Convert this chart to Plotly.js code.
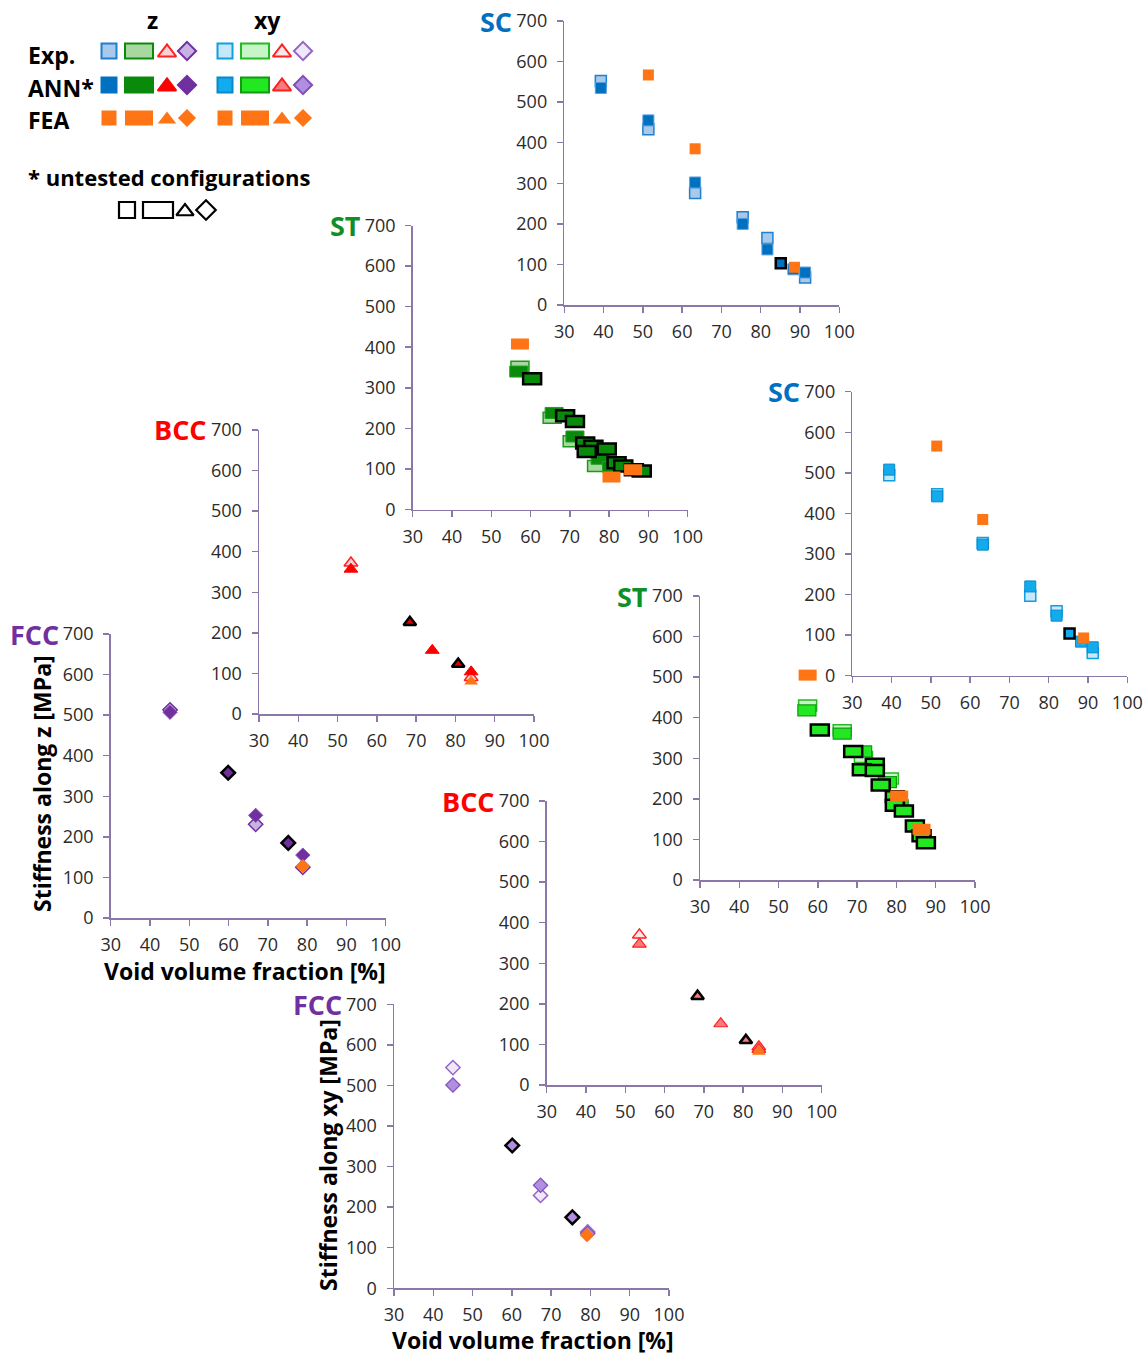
<!DOCTYPE html>
<html><head><meta charset="utf-8">
<script src="https://cdn.plot.ly/plotly-3.0.1.min.js"></script>
<style>html,body{margin:0;padding:0;background:#fff}#chart{width:1146px;height:1355px}</style>
</head><body><div id="chart"></div>
<script>
// ---------------- DATA ----------------
const xTicks = [30, 40, 50, 60, 70, 80, 90, 100];
const yTicks = [0, 100, 200, 300, 400, 500, 600, 700];

// SC – stiffness along z
const scZ_exp_x = [39.3, 51.4, 63.3, 75.4, 81.7, 91.3];
const scZ_exp_y = [552, 433, 276, 216, 165, 68];
const scZ_ann_x = [39.3, 51.4, 63.3, 75.4, 81.7, 88.3, 91.3];
const scZ_ann_y = [535, 455, 302, 200, 137, 88, 80];
const scZ_unt_x = [85.1];
const scZ_unt_y = [103];
const scZ_fea_x = [51.4, 63.3, 88.6];
const scZ_fea_y = [567, 385, 93];

// SC – stiffness along xy
const scXY_exp_x = [39.4, 51.6, 63.2, 75.3, 82.0, 91.2];
const scXY_exp_y = [494, 447, 327, 197, 159, 56];
const scXY_ann_x = [39.4, 51.6, 63.2, 75.3, 82.0, 88.2, 91.2];
const scXY_ann_y = [508, 442, 323, 220, 148, 84, 70];
const scXY_unt_x = [85.3];
const scXY_unt_y = [104];
const scXY_fea_x = [51.5, 63.2, 88.9];
const scXY_fea_y = [566, 385, 93];

// ST – stiffness along z
const stZ_exp_x = [57.3, 65.5, 70.6, 76.8];
const stZ_exp_y = [352, 226, 168, 107];
const stZ_ann_x = [57.0, 66.0, 71.3, 77.7, 80.6];
const stZ_ann_y = [340, 238, 180, 125, 105];
const stZ_unt_x = [60.4, 68.8, 71.3, 73.9, 76.0, 74.3, 79.4, 81.9, 83.6, 86.3, 88.3];
const stZ_unt_y = [322, 231, 217, 164, 156, 143, 149, 115, 107, 98, 95];
const stZ_fea_x = [57.3, 80.6, 86.1];
const stZ_fea_y = [408, 80, 98];

// ST – stiffness along xy
const stXY_exp_x = [57.4, 66.2, 71.6, 78.2];
const stXY_exp_y = [430, 369, 303, 250];
const stXY_ann_x = [57.2, 66.2, 71.4, 77.7, 80.7];
const stXY_ann_y = [418, 361, 317, 241, 184];
const stXY_unt_x = [60.5, 69.0, 74.5, 71.2, 74.5, 76.0, 79.6, 79.6, 81.9, 84.7, 86.4, 87.5];
const stXY_unt_y = [370, 317, 285, 272, 270, 234, 205, 184, 170, 133, 109, 92];
const stXY_fea_x = [57.4, 80.7, 86.4];
const stXY_fea_y = [505, 207, 125];

// BCC – stiffness along z
const bccZ_exp_x = [53.4, 84.0];
const bccZ_exp_y = [372, 90];
const bccZ_ann_x = [53.4, 74.1, 84.0];
const bccZ_ann_y = [357, 157, 104];
const bccZ_unt_x = [68.4, 80.7];
const bccZ_unt_y = [226, 123];
const bccZ_fea_x = [84.0];
const bccZ_fea_y = [80];

// BCC – stiffness along xy
const bccXY_exp_x = [53.6, 84.0];
const bccXY_exp_y = [370, 94];
const bccXY_ann_x = [53.6, 74.3, 84.0];
const bccXY_ann_y = [347, 151, 88];
const bccXY_unt_x = [68.4, 80.7];
const bccXY_unt_y = [219, 110];
const bccXY_fea_x = [84.0];
const bccXY_fea_y = [82];

// FCC – stiffness along z
const fccZ_exp_x = [45.1, 66.9, 78.9];
const fccZ_exp_y = [513, 231, 125];
const fccZ_ann_x = [45.1, 66.9, 78.9];
const fccZ_ann_y = [507, 253, 155];
const fccZ_unt_x = [59.9, 75.2];
const fccZ_unt_y = [358, 185];
const fccZ_fea_x = [78.9];
const fccZ_fea_y = [128];

// FCC – stiffness along xy
const fccXY_exp_x = [45.0, 67.3, 79.3];
const fccXY_exp_y = [544, 229, 139];
const fccXY_ann_x = [45.0, 67.3, 79.3];
const fccXY_ann_y = [501, 254, 135];
const fccXY_unt_x = [60.1, 75.4];
const fccXY_unt_y = [352, 175];
const fccXY_fea_x = [79.1];
const fccXY_fea_y = [131];

// ---------------- STYLE / LAYOUT ----------------
const FONT = '"Open Sans", "Noto Sans", sans-serif';
const AXC = '#8a78a8';
const ORANGE = '#ff7415';
const FW = 1146, FH = 1355, PW = 275, PH = 284;

const PLOTS = [
  {k: 1, L: 564.3, T: 21,    title: 'SC',  color: '#0070c0'},
  {k: 2, L: 412.7, T: 225.5, title: 'ST',  color: '#0f8f2a'},
  {k: 3, L: 852.3, T: 391.7, title: 'SC',  color: '#0070c0'},
  {k: 4, L: 259,   T: 430,   title: 'BCC', color: '#ff0000'},
  {k: 5, L: 110.7, T: 634,   title: 'FCC', color: '#7030a0'},
  {k: 6, L: 700,   T: 596,   title: 'ST',  color: '#0f8f2a'},
  {k: 7, L: 546.7, T: 801,   title: 'BCC', color: '#ff0000'},
  {k: 8, L: 394,   T: 1004.3,title: 'FCC', color: '#7030a0'}
];

const ax = k => (k === 1 ? '' : String(k));

function pts(xs, ys, k, symbol, size, fill, line, lw) {
  return {type: 'scatter', mode: 'markers', x: xs, y: ys,
    xaxis: 'x' + ax(k), yaxis: 'y' + ax(k), cliponaxis: false, showlegend: false,
    marker: {symbol: symbol, size: size, color: fill, line: {color: line, width: lw}}};
}
function rects(xs, ys, k, fill, line, lw) {
  return xs.map((x, i) => ({type: 'rect', xref: 'x' + ax(k), yref: 'y' + ax(k),
    xsizemode: 'pixel', ysizemode: 'pixel', xanchor: x, yanchor: ys[i],
    x0: -9, x1: 9, y0: -5.5, y1: 5.5, fillcolor: fill,
    line: {color: line, width: lw}, layer: 'above'}));
}

const traces = [];
let shapes = [];

// SC z (k=1)
traces.push(pts(scZ_exp_x, scZ_exp_y, 1, 'square', 11, '#a9c9ea', '#1f7fd0', 1.5));
traces.push(pts(scZ_ann_x, scZ_ann_y, 1, 'square', 11, '#0070c0', '#5a9fe0', 1));
traces.push(pts(scZ_unt_x, scZ_unt_y, 1, 'square', 10, '#0070c0', '#000000', 2.5));
traces.push(pts(scZ_fea_x, scZ_fea_y, 1, 'square', 11, ORANGE, ORANGE, 0));
// SC xy (k=3)
traces.push(pts(scXY_exp_x, scXY_exp_y, 3, 'square', 11, '#c5e8fa', '#10a0e0', 1.5));
traces.push(pts(scXY_ann_x, scXY_ann_y, 3, 'square', 11, '#12acee', '#0a88cc', 1));
traces.push(pts(scXY_unt_x, scXY_unt_y, 3, 'square', 10, '#12acee', '#000000', 2.5));
traces.push(pts(scXY_fea_x, scXY_fea_y, 3, 'square', 11, ORANGE, ORANGE, 0));
// BCC z (k=4)
traces.push(pts(bccZ_exp_x, bccZ_exp_y, 4, 'triangle-up', 12, '#fbd0d0', '#ff2020', 1.5));
traces.push(pts(bccZ_ann_x, bccZ_ann_y, 4, 'triangle-up', 12, '#ff0000', '#ff0000', 1));
traces.push(pts(bccZ_unt_x, bccZ_unt_y, 4, 'triangle-up', 11, '#e00000', '#000000', 2.5));
traces.push(pts(bccZ_fea_x, bccZ_fea_y, 4, 'triangle-up', 12, ORANGE, ORANGE, 0));
// BCC xy (k=7)
traces.push(pts(bccXY_exp_x, bccXY_exp_y, 7, 'triangle-up', 12, '#fde6e6', '#ff2020', 1.5));
traces.push(pts(bccXY_ann_x, bccXY_ann_y, 7, 'triangle-up', 12, '#f47c7c', '#ff2020', 1.2));
traces.push(pts(bccXY_unt_x, bccXY_unt_y, 7, 'triangle-up', 11, '#f47c7c', '#000000', 2.5));
traces.push(pts(bccXY_fea_x, bccXY_fea_y, 7, 'triangle-up', 12, ORANGE, ORANGE, 0));
// FCC z (k=5)
traces.push(pts(fccZ_exp_x, fccZ_exp_y, 5, 'diamond', 11, '#c9b2e3', '#7030a0', 1.5));
traces.push(pts(fccZ_ann_x, fccZ_ann_y, 5, 'diamond', 11, '#7030a0', '#8a55b8', 1));
traces.push(pts(fccZ_unt_x, fccZ_unt_y, 5, 'diamond', 10.5, '#7030a0', '#000000', 2.5));
traces.push(pts(fccZ_fea_x, fccZ_fea_y, 5, 'diamond', 11, ORANGE, ORANGE, 0));
// FCC xy (k=8)
traces.push(pts(fccXY_exp_x, fccXY_exp_y, 8, 'diamond', 11, '#f0e8f8', '#9566c8', 1.5));
traces.push(pts(fccXY_ann_x, fccXY_ann_y, 8, 'diamond', 11, '#b08ee0', '#8050b8', 1.2));
traces.push(pts(fccXY_unt_x, fccXY_unt_y, 8, 'diamond', 10.5, '#b08ee0', '#000000', 2.5));
traces.push(pts(fccXY_fea_x, fccXY_fea_y, 8, 'diamond', 11, ORANGE, ORANGE, 0));
// ST z (k=2) – rectangles
shapes = shapes.concat(rects(stZ_exp_x, stZ_exp_y, 2, '#a8d8a0', '#1a9a1a', 1.5));
shapes = shapes.concat(rects(stZ_ann_x, stZ_ann_y, 2, '#0a8a0a', '#1f9f1f', 1));
shapes = shapes.concat(rects(stZ_unt_x, stZ_unt_y, 2, '#0a8a0a', '#000000', 2.5));
shapes = shapes.concat(rects(stZ_fea_x, stZ_fea_y, 2, ORANGE, ORANGE, 0));
// ST xy (k=6)
shapes = shapes.concat(rects(stXY_exp_x, stXY_exp_y, 6, '#c8f5c8', '#22bb22', 1.5));
shapes = shapes.concat(rects(stXY_ann_x, stXY_ann_y, 6, '#22e822', '#129a12', 1.2));
shapes = shapes.concat(rects(stXY_unt_x, stXY_unt_y, 6, '#22e822', '#000000', 2.5));
shapes = shapes.concat(rects(stXY_fea_x, stXY_fea_y, 6, ORANGE, ORANGE, 0));

// ---------------- LEGEND (hidden pixel-space axis 9) ----------------
const LEG_COLS = [109, 139, 167, 187, 225, 255, 282, 303];
const LEG_ROWS = [51, 85, 118];
const LEG_UNT_Y = 210, LEG_UNT_X = [127, 158, 185, 206];
const LEG_STYLE = [ // per row, per col (z: sq, rect, tri, dia; xy: sq, rect, tri, dia)
  [['#a9c9ea','#1f7fd0'],['#a8d8a0','#0a8a0a'],['#fbd0d0','#ff2020'],['#c9b2e3','#7030a0'],
   ['#c5e8fa','#10a0e0'],['#c8f5c8','#22bb22'],['#fde6e6','#ff2020'],['#f0e8f8','#9566c8']],
  [['#0070c0','#0070c0'],['#0a8a0a','#0a8a0a'],['#ff0000','#ff0000'],['#7030a0','#7030a0'],
   ['#12acee','#0a88cc'],['#22e822','#129a12'],['#f47c7c','#ff2020'],['#b08ee0','#8050b8']],
  [[ORANGE,ORANGE],[ORANGE,ORANGE],[ORANGE,ORANGE],[ORANGE,ORANGE],
   [ORANGE,ORANGE],[ORANGE,ORANGE],[ORANGE,ORANGE],[ORANGE,ORANGE]]
];
const LEG_SYM = ['square', 'rect', 'triangle-up', 'diamond'];
const LEG_SIZE = {square: 15, 'triangle-up': 16, diamond: 14};
LEG_ROWS.forEach((ry, r) => {
  LEG_COLS.forEach((cx, c) => {
    const sym = LEG_SYM[c % 4];
    const [fill, line] = LEG_STYLE[r][c];
    const lw = r === 2 ? 0 : 2;
    if (sym === 'rect') {
      shapes.push({type: 'rect', xref: 'x9', yref: 'y9', x0: cx - 14, x1: cx + 14, y0: ry - 7.5, y1: ry + 7.5,
        fillcolor: fill, line: {color: line, width: lw}, layer: 'above'});
    } else {
      traces.push({type: 'scatter', mode: 'markers', x: [cx], y: [ry + (sym === 'triangle-up' ? 1.5 : 0)], xaxis: 'x9', yaxis: 'y9',
        showlegend: false, hoverinfo: 'skip', cliponaxis: false,
        marker: {symbol: sym, size: LEG_SIZE[sym], color: fill, line: {color: line, width: lw}}});
    }
  });
});
LEG_UNT_X.forEach((cx, c) => {
  const sym = LEG_SYM[c];
  if (sym === 'rect') {
    shapes.push({type: 'rect', xref: 'x9', yref: 'y9', x0: cx - 15, x1: cx + 15, y0: LEG_UNT_Y - 8, y1: LEG_UNT_Y + 8,
      fillcolor: '#ffffff', line: {color: '#000000', width: 2.2}, layer: 'above'});
  } else {
    traces.push({type: 'scatter', mode: 'markers', x: [cx], y: [LEG_UNT_Y + (sym === 'triangle-up' ? 1.5 : 0)], xaxis: 'x9', yaxis: 'y9',
      showlegend: false, hoverinfo: 'skip', cliponaxis: false,
      marker: {symbol: sym, size: sym === 'square' ? 16 : 15, color: '#ffffff', line: {color: '#000000', width: 2.2}}});
  }
});

// ---------------- AXES ----------------
const layout = {
  width: FW, height: FH, margin: {l: 0, r: 0, t: 0, b: 0},
  paper_bgcolor: '#ffffff', plot_bgcolor: 'rgba(0,0,0,0)',
  showlegend: false, shapes: shapes, annotations: [],
  font: {family: FONT, color: '#333333'}
};
PLOTS.forEach(p => {
  const s = ax(p.k);
  const common = {showline: true, linecolor: AXC, linewidth: 1.5, ticks: 'outside', ticklen: 6,
    tickcolor: AXC, tickwidth: 1.5, showgrid: false, zeroline: false, fixedrange: true,
    tickfont: {family: FONT, size: 18, color: '#2b2b2b'}};
  layout['xaxis' + s] = Object.assign({}, common, {
    domain: [p.L / FW, (p.L + PW) / FW], range: [30, 100], tickvals: xTicks,
    anchor: 'y' + s, ticklabelstandoff: 4});
  layout['yaxis' + s] = Object.assign({}, common, {
    domain: [1 - (p.T + PH) / FH, 1 - p.T / FH], range: [0, 700], tickvals: yTicks,
    anchor: 'x' + s, ticklabelstandoff: 6});
  layout.annotations.push({xref: 'paper', yref: 'paper', x: (p.L - 50) / FW, y: 1 - p.T / FH,
    xanchor: 'right', yanchor: 'middle', showarrow: false, text: '<b>' + p.title + '</b>',
    font: {family: FONT, size: 27, color: p.color}});
});
layout.xaxis9 = {domain: [0, 1], range: [0, FW], visible: false, fixedrange: true, anchor: 'y9'};
layout.yaxis9 = {domain: [0, 1], range: [FH, 0], visible: false, fixedrange: true, anchor: 'x9'};

// axis titles & legend texts
function txt(text, x, y, size, opts) {
  layout.annotations.push(Object.assign({xref: 'paper', yref: 'paper', x: x / FW, y: 1 - y / FH,
    xanchor: 'center', yanchor: 'middle', showarrow: false, text: text,
    font: {family: FONT, size: size, color: '#000000'}}, opts || {}));
}
txt('<b>Stiffness along z [MPa]</b>', 42, 784, 23, {textangle: -90});
txt('<b>Void volume fraction [%]</b>', 245, 971, 23);
txt('<b>Stiffness along xy [MPa]</b>', 328, 1155, 23, {textangle: -90});
txt('<b>Void volume fraction [%]</b>', 533, 1340, 23);
txt('<b>z</b>', 152, 20, 23);
txt('<b>xy</b>', 267, 20, 23);
txt('<b>Exp.</b>', 26, 55, 23, {xanchor: 'left'});
txt('<b>ANN*</b>', 26, 88, 23, {xanchor: 'left'});
txt('<b>FEA</b>', 26, 120, 23, {xanchor: 'left'});
txt('<b>* untested configurations</b>', 26, 177, 22, {xanchor: 'left'});

Plotly.newPlot('chart', traces, layout, {staticPlot: true, displayModeBar: false});
</script></body></html>
